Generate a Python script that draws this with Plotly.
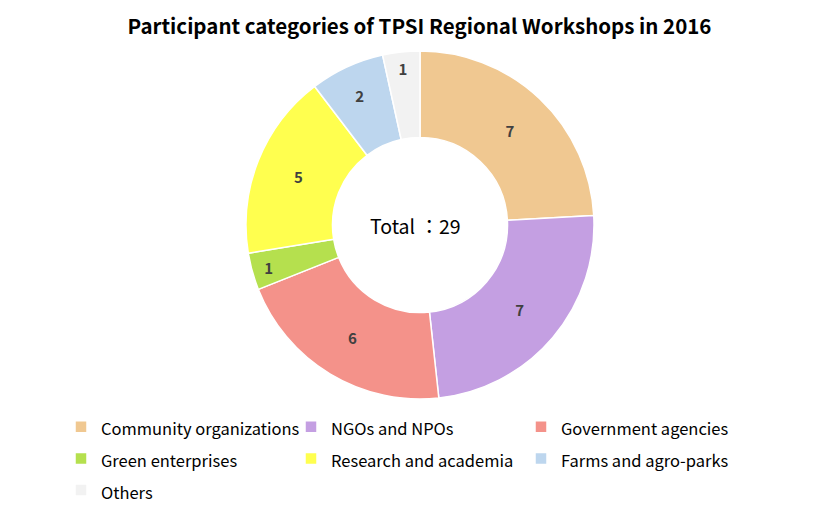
import plotly.graph_objects as go

categories = ["Community organizations", "NGOs and NPOs", "Government agencies",
              "Green enterprises", "Research and academia", "Farms and agro-parks", "Others"]
values = [7, 7, 6, 1, 5, 2, 1]
colors = ["#F0C891", "#C49FE2", "#F4928A", "#B5E04E", "#FFFF4F", "#BDD6EE", "#F2F2F2"]
title_text = "Participant categories of TPSI Regional Workshops in 2016"
center_text = "Total ：29"

FONT = "Noto Sans CJK JP"
W, H = 839, 516
cx, cy, r = 420, 225, 174

legend_labels = [f"<span style='font-size:16.5px'>{c}</span>" for c in categories]

fig = go.Figure(go.Pie(
    labels=legend_labels, values=values, sort=False, direction="clockwise", rotation=0,
    hole=0.503,
    marker=dict(colors=colors, line=dict(color="white", width=1.5)),
    textinfo="value", textposition="inside", insidetextorientation="horizontal",
    textfont=dict(family=FONT, size=15, color="#404040", weight="bold"),
    domain=dict(x=[(cx - r) / W, (cx + r) / W], y=[1 - (cy + r) / H, 1 - (cy - r) / H]),
    customdata=categories,
    hovertemplate="%{customdata}: %{value}<extra></extra>",
))

fig.update_layout(
    width=W, height=H,
    margin=dict(l=0, r=0, t=0, b=0),
    paper_bgcolor="white", plot_bgcolor="white",
    font=dict(family=FONT, color="#000000"),
    title=dict(text=title_text, x=0.5, xanchor="center", y=1 - 27 / H, yanchor="middle",
               font=dict(family=FONT, size=20.5, color="#000000", weight="bold")),
    showlegend=True,
    legend=dict(orientation="h", x=61 / W, xanchor="left", y=1 - 406 / H, yanchor="top",
                entrywidth=185, entrywidthmode="pixels",
                font=dict(family=FONT, size=22, color="#000000"),
                traceorder="normal", itemclick=False),
    annotations=[dict(text=center_text, x=415 / W, y=1 - cy / H, xref="paper", yref="paper",
                      showarrow=False, font=dict(family=FONT, size=19.5, color="#000000"))],
)

fig.write_html("out.html", config={"displayModeBar": False},
               post_script="document.body.style.margin='0';")
